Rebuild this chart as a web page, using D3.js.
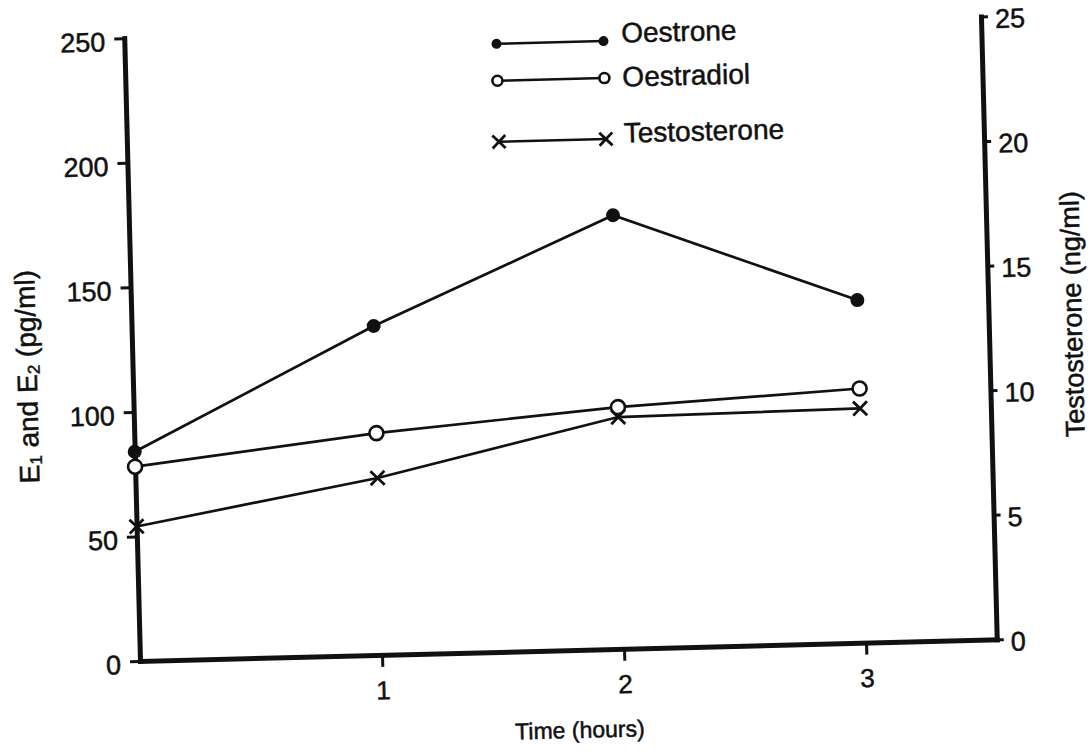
<!doctype html>
<html>
  <head>
    <meta charset="utf-8">
    <script src="https://cdnjs.cloudflare.com/ajax/libs/d3/7.8.5/d3.min.js"></script>
    <style>
      body { margin: 0; background: #fff; }
      svg { display: block; font-family: "Liberation Sans", Arial, Helvetica, sans-serif; }
      .axis path.domain { stroke: #111; stroke-width: 5; stroke-linecap: square; }
      .axis line { stroke: #111; stroke-width: 3; }
      .axis text { fill: #111; font-size: 27px; stroke: #111; stroke-width: 0.5; }
      .series { fill: none; stroke: #111; stroke-width: 2.7; }
      .label { fill: #111; font-size: 28px; stroke: #111; stroke-width: 0.5; }
    </style>
  </head>
  <body>
    <svg width="1092" height="756"></svg>
    <script>
      // values
      var hours = [0, 1, 2, 3];
      var oestrone = [84, 132, 174, 137.5];
      var oestradiol = [78, 89, 97, 102];
      var testosterone = [5.4, 7.1, 9.3, 9.4];   // ng/ml, right axis

      var leftTicks = [0, 50, 100, 150, 200, 250];
      var rightTicks = [0, 5, 10, 15, 20, 25];
      var timeTicks = [1, 2, 3];
      var legendLabels = ["Oestrone", "Oestradiol", "Testosterone"];

      var plotW = 857, plotH = 623;

      var svg = d3.select("svg");
      // the scanned figure sits a little tilted, so the whole chart is rotated
      var g = svg.append("g").attr("transform", "translate(140,661) rotate(-1.45)");

      var x = d3.scaleLinear().domain([0, 3.54]).range([0, plotW]);
      var yL = d3.scaleLinear().domain([0, 250]).range([0, -plotH]);
      var yR = d3.scaleLinear().domain([0, 25]).range([0, -plotH]);

      // axes
      var gx = g.append("g").attr("class", "axis")
        .call(d3.axisBottom(x).tickValues(timeTicks).tickFormat(d3.format("d"))
          .tickSize(12).tickSizeOuter(0).tickPadding(14));
      gx.selectAll("text").style("font-size", "26px");

      var gl = g.append("g").attr("class", "axis")
        .call(d3.axisLeft(yL).tickValues(leftTicks).tickSize(10).tickSizeOuter(0).tickPadding(9));
      gl.selectAll("text").attr("dy", "0.45em");

      var gr = g.append("g").attr("class", "axis").attr("transform", "translate(" + plotW + ",0)")
        .call(d3.axisRight(yR).tickValues(rightTicks).tickSize(7).tickSizeOuter(0).tickPadding(7));
      gr.selectAll("text").attr("dy", "0.42em");

      svg.selectAll(".axis path.domain").attr("fill", "none");

      // series
      var series = [
        { name: legendLabels[0], vals: oestrone, y: yL, mark: "dot" },
        { name: legendLabels[1], vals: oestradiol, y: yL, mark: "ring" },
        { name: legendLabels[2], vals: testosterone, y: yR, mark: "cross" }
      ];

      function drawMark(sel, kind, cx, cy, s) {
        if (kind === "dot") {
          sel.append("circle").attr("cx", cx).attr("cy", cy).attr("r", s).attr("fill", "#111");
        } else if (kind === "ring") {
          sel.append("circle").attr("cx", cx).attr("cy", cy).attr("r", s)
            .attr("fill", "#fff").attr("stroke", "#111").attr("stroke-width", 2.6);
        } else {
          sel.append("path")
            .attr("d", "M" + (cx - s) + "," + (cy - s) + "L" + (cx + s) + "," + (cy + s) +
                       "M" + (cx - s) + "," + (cy + s) + "L" + (cx + s) + "," + (cy - s))
            .attr("stroke", "#111").attr("stroke-width", 2.8).attr("fill", "none");
        }
      }

      series.forEach(function(s) {
        var line = d3.line().x(function(d, i) { return x(hours[i]); }).y(function(d) { return s.y(d); });
        g.append("path").attr("class", "series").attr("d", line(s.vals));
        var mg = g.append("g");
        s.vals.forEach(function(v, i) {
          drawMark(mg, s.mark, x(hours[i]), s.y(v), 7);
        });
      });

      // legend
      var legRows = [-608, -571, -510];
      var legText = [-606, -562, -506];
      series.forEach(function(s, i) {
        var lg = g.append("g");
        lg.append("line").attr("x1", 372).attr("x2", 479).attr("y1", legRows[i]).attr("y2", legRows[i])
          .attr("stroke", "#111").attr("stroke-width", 2.4);
        drawMark(lg, s.mark, 372, legRows[i], s.mark === "cross" ? 6.5 : 5);
        drawMark(lg, s.mark, 479, legRows[i], s.mark === "cross" ? 6.5 : 5);
        lg.append("text").attr("class", "label").attr("x", 497).attr("y", legText[i]).text(s.name);
      });

      // axis titles
      g.append("text").attr("class", "label").style("font-size", "23px")
        .attr("x", 438).attr("y", 88).attr("text-anchor", "middle").text("Time (hours)");

      var lt = g.append("text").attr("class", "label")
        .attr("transform", "translate(-96,-287) rotate(-90)").attr("text-anchor", "middle");
      lt.append("tspan").text("E");
      lt.append("tspan").attr("font-size", "17px").attr("dy", "3").text("1");
      lt.append("tspan").attr("dy", "-3").text(" and E");
      lt.append("tspan").attr("font-size", "17px").attr("dy", "3").text("2");
      lt.append("tspan").attr("dy", "-3").text(" (pg/ml)");

      g.append("text").attr("class", "label").style("font-size", "27px")
        .attr("transform", "translate(950,-323) rotate(-90)").attr("text-anchor", "middle")
        .text("Testosterone (ng/ml)");
    </script>
  </body>
</html>
